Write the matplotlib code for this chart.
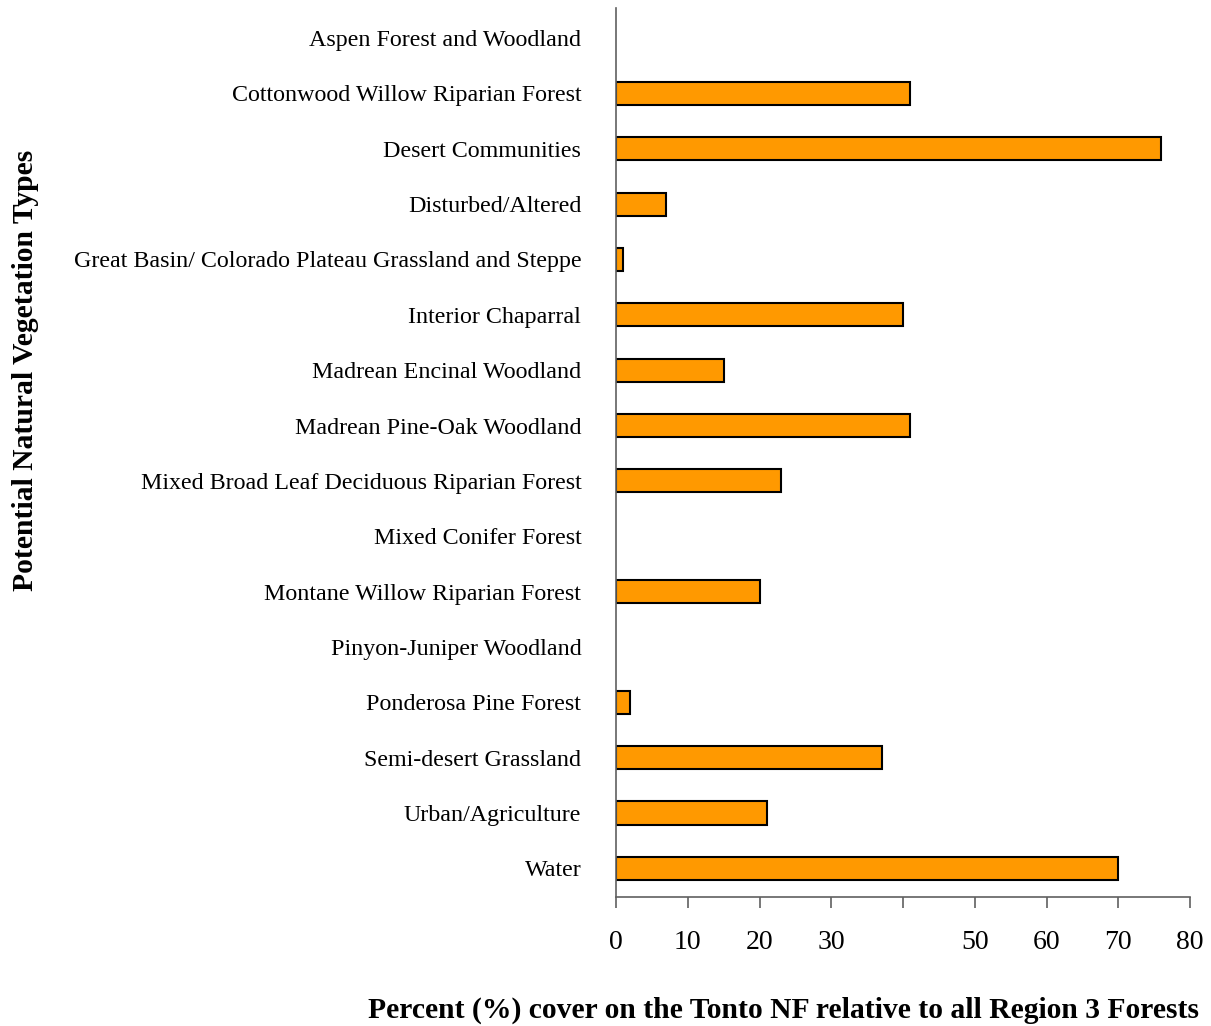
import numpy as np
import matplotlib
matplotlib.use('Agg')
import matplotlib.pyplot as plt

plt.rcParams['font.family'] = ['Liberation Serif', 'DejaVu Serif']

# vegetation types, top to bottom
categories = ['Aspen Forest and Woodland',
              'Cottonwood Willow Riparian Forest',
              'Desert Communities',
              'Disturbed/Altered',
              'Great Basin/ Colorado Plateau Grassland and Steppe',
              'Interior Chaparral',
              'Madrean Encinal Woodland',
              'Madrean Pine-Oak Woodland',
              'Mixed Broad Leaf Deciduous Riparian Forest',
              'Mixed Conifer Forest',
              'Montane Willow Riparian Forest',
              'Pinyon-Juniper Woodland',
              'Ponderosa Pine Forest',
              'Semi-desert Grassland',
              'Urban/Agriculture',
              'Water']
percent = [0, 41, 76, 7, 1, 40, 15, 41, 23, 0, 20, 0, 2, 37, 21, 70]

xticks = [0, 10, 20, 30, 40, 50, 60, 70, 80]
xticklabels = ['0', '10', '20', '30', '', '50', '60', '70', '80']

fig = plt.figure(figsize=(12.11, 10.26), dpi=100)
ax = fig.add_axes([0.5087, 0.1257, 0.4740, 0.8663])

y = np.arange(len(categories))
vals = np.array(percent, dtype=float)
mask = vals > 0
ax.barh(y[mask], vals[mask], height=0.42, color='#FF9900',
        edgecolor='black', linewidth=1.5)

ax.set_ylim(15.52, -0.54)
ax.set_xlim(0, 80)
ax.set_yticks(y)
ax.set_yticklabels(categories, fontsize=17.3)
ax.tick_params(axis='y', length=0, pad=25)
ax.set_xticks(xticks)
ax.set_xticklabels(xticklabels, fontsize=20)
ax.tick_params(axis='x', direction='out', length=8, width=1.2,
               color='#606060', pad=16)

for s in ['top', 'right']:
    ax.spines[s].set_visible(False)
for s in ['left', 'bottom']:
    ax.spines[s].set_color('#606060')
    ax.spines[s].set_linewidth(1.2)

fig.text(0.647, 0.0156, 'Percent (%) cover on the Tonto NF relative to all Region 3 Forests',
         ha='center', va='center', fontsize=21.3, fontweight='bold')
fig.text(0.021, 0.639, 'Potential Natural Vegetation Types', rotation=90,
         ha='center', va='center', fontsize=21.3, fontweight='bold')

fig.savefig('out.png', dpi=100)
